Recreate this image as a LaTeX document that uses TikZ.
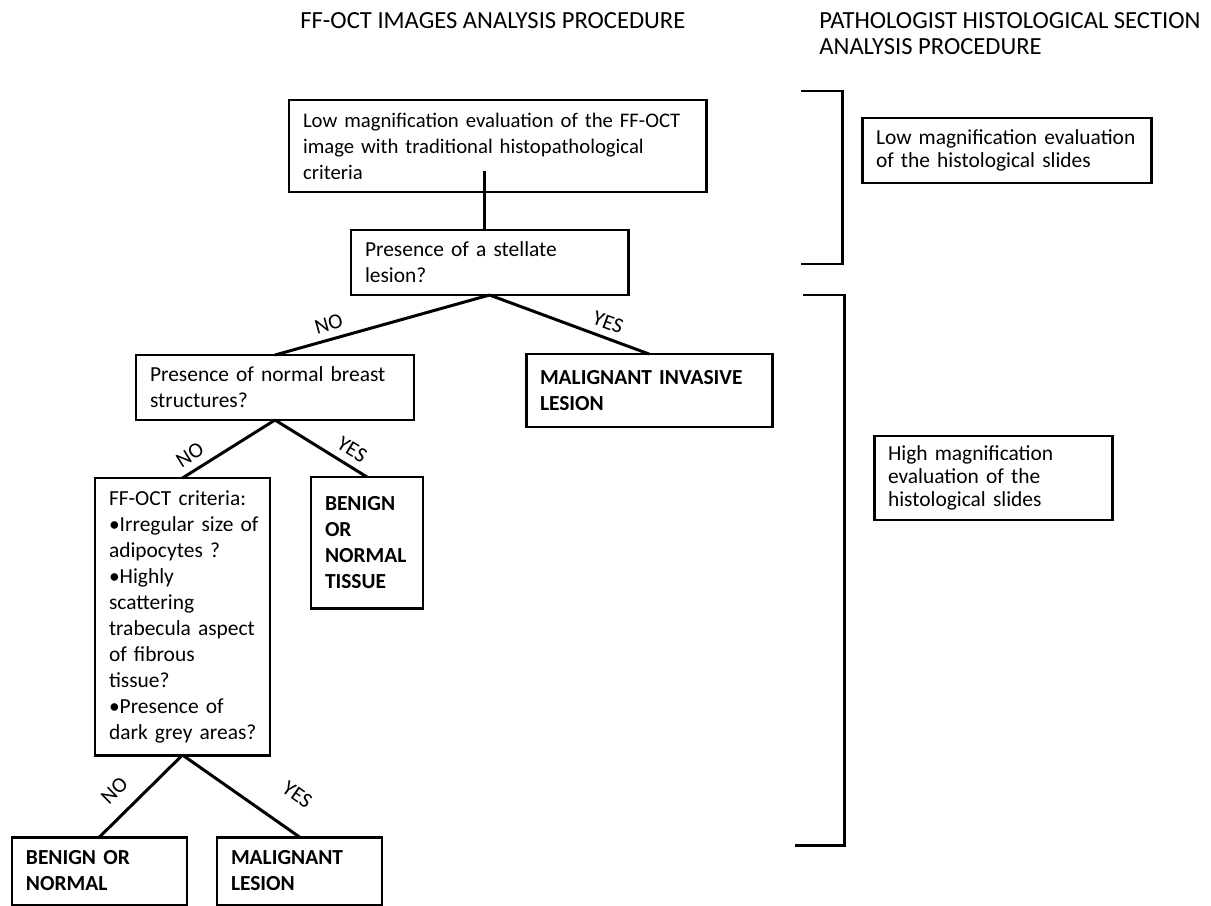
\documentclass[tikz,border=0pt]{standalone}
\usepackage{fontspec}
\setmainfont{Carlito}
\usetikzlibrary{positioning, calc}

\begin{document}
\begin{tikzpicture}[
    every node/.style={font=\fontsize{12.2}{14.8}\selectfont},
    box/.style={draw, line width=1.7pt, anchor=north west, align=left,
        inner xsep=0.28cm, inner ysep=0pt, outer sep=0pt,
        execute at begin node={\hyphenpenalty=10000\exhyphenpenalty=10000}},
    verdict/.style={box, font=\fontsize{12.2}{14.8}\selectfont\bfseries},
    histbox/.style={box, font=\fontsize{12.2}{13.2}\selectfont},
    link/.style={line width=1.7pt},
    bracket/.style={line width=1.7pt},
    answer/.style={sloped, above, inner xsep=1pt, inner ysep=4pt},
    heading/.style={font=\fontsize{14}{14.8}\selectfont, inner sep=0pt, align=left, anchor=north west},
]
\useasboundingbox (0,0) rectangle (24.22,-18.1);

% ============================================================
% Headings
% ============================================================
\node[heading] (octhead) at (6.00,-0.24) {FF-OCT IMAGES ANALYSIS PROCEDURE};
\node[heading] (histhead) at (16.38,-0.24) {PATHOLOGIST HISTOLOGICAL SECTION\\ANALYSIS PROCEDURE};

% ============================================================
% FF-OCT decision tree
% ============================================================
\node[box, font=\fontsize{11.8}{14.8}\selectfont, text width=7.78cm, minimum height=1.84cm] (low) at (5.78,-2.00)
    {Low magnification evaluation of the FF-OCT\\image with traditional histopathological\\criteria};
\node[box, text width=4.98cm, minimum height=1.30cm] (stellate) at (7.02,-4.60)
    {Presence of a stellate\\lesion?};
% --- level 1 ---
\node[box, text width=5.00cm, minimum height=1.30cm] (normal) at (2.72,-7.10)
    {Presence of normal breast\\structures?};
\node[verdict, text width=4.36cm, minimum height=1.46cm] (invasive) at (10.52,-7.08)
    {MALIGNANT INVASIVE\\LESION};
% --- level 2 ---
\node[box, text width=2.94cm, minimum height=5.54cm] (criteria) at (1.90,-9.56)
    {FF-OCT criteria:\\\textbullet Irregular~size~of\\adipocytes ?\\\textbullet Highly\\scattering\\trabecula~aspect\\of fibrous\\tissue?\\\textbullet Presence of\\dark~grey~areas?};
\node[verdict, text width=1.68cm, minimum height=2.62cm] (tissue) at (6.22,-9.54)
    {BENIGN\\OR\\NORMAL\\TISSUE\\[0.15cm]};
% --- level 3 ---
\node[verdict, text width=2.94cm, minimum height=1.36cm] (benign) at (0.24,-16.74)
    {BENIGN OR\\NORMAL};
\node[verdict, text width=2.74cm, minimum height=1.36cm] (lesion) at (4.34,-16.74)
    {MALIGNANT\\LESION};

% Connectors
\coordinate (lowjoin) at (9.68,-3.42);
\draw[link] (lowjoin) -- (lowjoin |- stellate.north);
\draw[link] (stellate.south) -- node[answer, pos=0.73] {NO} (normal.north);
\draw[link] (stellate.south) -- node[answer, pos=0.71] {YES} (invasive.north);
\draw[link] (normal.south) -- node[answer, pos=0.83] {NO} (criteria.north);
\draw[link] (normal.south) -- node[answer, pos=0.75] {YES} (tissue.north);
\draw[link] (criteria.south) -- node[answer, pos=0.63, inner ysep=8pt] {NO} (benign.north);
\draw[link] (criteria.south) -- node[answer, pos=0.82, inner ysep=14pt] {YES} (lesion.north);

% ============================================================
% Pathologist procedure
% ============================================================
\draw[bracket] (16.02,-1.82) -- (16.84,-1.82) -- (16.84,-5.28) -- (16.02,-5.28);
\draw[bracket] (16.06,-5.90) -- (16.88,-5.90) -- (16.88,-16.90) -- (15.90,-16.90);

\node[histbox, text width=5.22cm, minimum height=1.30cm] (lowhist) at (17.24,-2.36)
    {Low magnification evaluation\\of the histological slides};
\node[histbox, text width=4.20cm, minimum height=1.68cm] (highhist) at (17.48,-8.72)
    {High magnification\\evaluation of the\\histological slides};

\end{tikzpicture}
\end{document}
